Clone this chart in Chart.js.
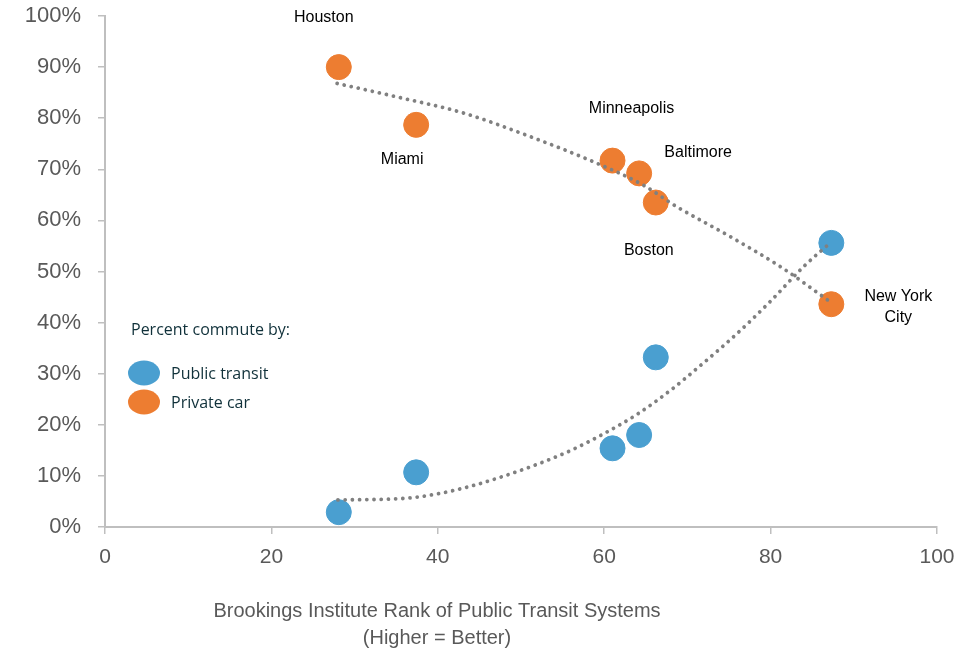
<!DOCTYPE html>
<html>
<head>
<meta charset="utf-8">
<script src="https://cdn.jsdelivr.net/npm/chart.js@4"></script>
<style>
  html, body { margin: 0; padding: 0; background: #fff; }
  #wrap { position: relative; width: 961px; height: 654px; }
</style>
</head>
<body>
<div id="wrap"><canvas id="c" width="961" height="654"></canvas></div>
<script>
// ---- data ----
const cities = ['Houston', 'Miami', 'Minneapolis', 'Baltimore', 'Boston', 'New York City'];
const transitRank = [28.1, 37.4, 61.0, 64.2, 66.2, 87.3];
const privateCar = [90.0, 78.7, 71.7, 69.2, 63.5, 43.6];
const publicTransit = [2.9, 10.7, 15.4, 18.0, 33.2, 55.6];

// trend curves
const carTrendX = [27.9, 35.0, 43.1, 51.1, 59.1, 64.7, 68.7, 75.5, 81.5, 87.3];
const carTrendY = [86.8, 84.2, 81.0, 76.4, 71.2, 66.9, 62.7, 56.5, 50.6, 43.9];
const transitTrendX = [28.0, 36.0, 40.0, 44.0, 48.0, 52.0, 56.0, 60.0, 64.0, 68.0, 72.0, 76.0, 80.0, 84.0, 87.3];
const transitTrendY = [5.3, 5.6, 6.5, 8.0, 10.0, 12.3, 15.0, 18.3, 22.1, 26.8, 32.2, 37.9, 44.2, 51.0, 55.8];

const xTicks = [0, 20, 40, 60, 80, 100];
const yTicks = [0, 10, 20, 30, 40, 50, 60, 70, 80, 90, 100];
const xTitle = ['Brookings Institute Rank of Public Transit Systems', '(Higher = Better)'];
const legendTitle = 'Percent commute by:';
const seriesNames = ['Public transit', 'Private car'];

// ---- styles ----
const BLUE = '#4A9FD0';
const ORANGE = '#ED7D31';
const AXIS = '#BFBFBF';
const TICKTXT = '#595959';
const SANS = '"Liberation Sans", Arial, Helvetica, sans-serif';

const pts = (xs, ys) => xs.map((x, i) => ({ x, y: ys[i] }));

const labelOffsets = {
  'Houston': [[-15, -50]],
  'Miami': [[-14, 35]],
  'Minneapolis': [[19, -52]],
  'Baltimore': [[59, -21]],
  'Boston': [[-7, 48]],
  'New York City': [[67, -8, 'New York'], [67, 13, 'City']]
};

const overlay = {
  id: 'overlay',
  afterDraw(chart) {
    const ctx = chart.ctx;
    const xs = chart.scales.x, ys = chart.scales.y;
    ctx.save();
    // city labels
    ctx.font = '16px ' + SANS;
    ctx.fillStyle = '#000';
    ctx.textAlign = 'center';
    ctx.textBaseline = 'middle';
    cities.forEach((c, i) => {
      const px = xs.getPixelForValue(transitRank[i]);
      const py = ys.getPixelForValue(privateCar[i]);
      labelOffsets[c].forEach(o => ctx.fillText(o[2] || c, px + o[0], py + o[1]));
    });
    // x-axis title
    ctx.font = '20px ' + SANS;
    ctx.fillStyle = TICKTXT;
    ctx.fillText(xTitle[0], 437, 611);
    ctx.fillText(xTitle[1], 437, 638);
    // legend
    ctx.textAlign = 'left';
    ctx.font = '16px "Open Sans", "Noto Sans", sans-serif';
    ctx.fillStyle = '#10313A';
    ctx.fillText(legendTitle, 131, 330);
    [BLUE, ORANGE].forEach((col, i) => {
      const cy = 373 + i * 29;
      ctx.beginPath();
      ctx.ellipse(144, cy, 16, 12.5, 0, 0, Math.PI * 2);
      ctx.fillStyle = col;
      ctx.fill();
      ctx.fillStyle = '#10313A';
      ctx.fillText(seriesNames[i], 171, cy + 1);
    });
    ctx.restore();
  }
};

const dotted = {
  type: 'line',
  showLine: true,
  borderColor: '#808080',
  borderWidth: 3.8,
  borderDash: [0.01, 7.2],
  borderCapStyle: 'round',
  pointRadius: 0,
  cubicInterpolationMode: 'monotone',
  fill: false,
  order: 0
};

new Chart(document.getElementById('c'), {
  type: 'scatter',
  data: {
    datasets: [
      Object.assign({ label: 'car trend', data: pts(carTrendX, carTrendY) }, dotted),
      Object.assign({ label: 'transit trend', data: pts(transitTrendX, transitTrendY) }, dotted),
      {
        label: seriesNames[0], data: pts(transitRank, publicTransit),
        backgroundColor: BLUE, borderColor: BLUE, borderWidth: 1, pointRadius: 12.5, order: 5
      },
      {
        label: seriesNames[1], data: pts(transitRank, privateCar),
        backgroundColor: ORANGE, borderColor: ORANGE, borderWidth: 1, pointRadius: 12.5, order: 5
      }
    ]
  },
  options: {
    responsive: false,
    animation: false,
    events: [],
    layout: { autoPadding: false, padding: { left: 0, right: 24, top: 16, bottom: 0 } },
    plugins: { legend: { display: false }, tooltip: { enabled: false } },
    scales: {
      x: {
        type: 'linear', min: 0, max: 100,
        afterBuildTicks: s => { s.ticks = xTicks.map(v => ({ value: v })); },
        afterFit: s => { s.height = 127; s.paddingLeft = 0; s.paddingRight = 0; },
        grid: { display: true, drawOnChartArea: false, drawTicks: true, tickLength: 7, color: AXIS, lineWidth: 1.5 },
        border: { display: true, color: AXIS, width: 2 },
        ticks: { color: TICKTXT, font: { family: SANS, size: 21 }, padding: 11, maxRotation: 0 }
      },
      y: {
        type: 'linear', min: 0, max: 100,
        afterBuildTicks: s => { s.ticks = yTicks.map(v => ({ value: v })); },
        afterFit: s => { s.width = 105; s.paddingTop = 0; s.paddingBottom = 0; },
        grid: { display: true, drawOnChartArea: false, drawTicks: true, tickLength: 7, color: AXIS, lineWidth: 1.5 },
        border: { display: true, color: AXIS, width: 2 },
        ticks: { color: TICKTXT, font: { family: SANS, size: 22 }, padding: 17, callback: v => v + '%' }
      }
    }
  },
  plugins: [overlay]
});
</script>
</body>
</html>
